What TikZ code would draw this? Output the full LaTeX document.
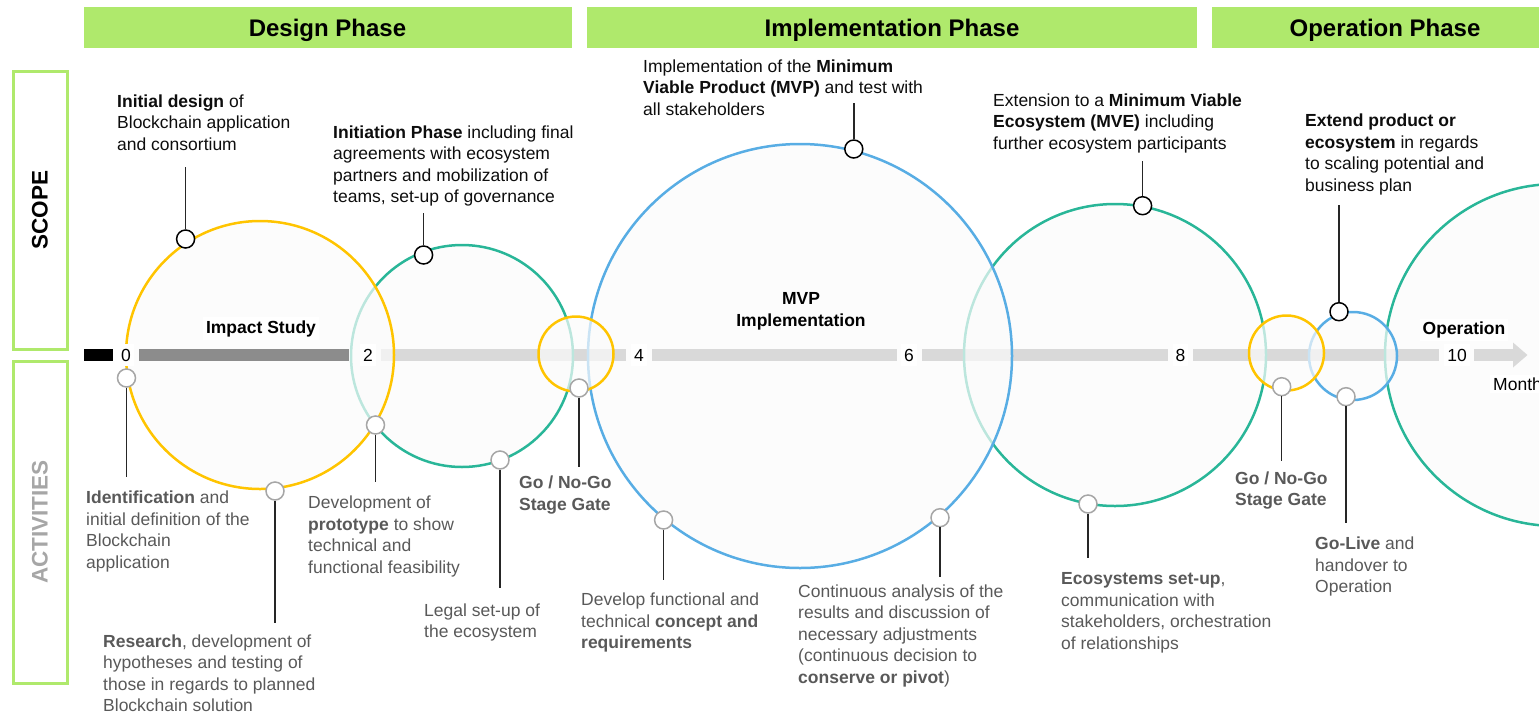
\documentclass[tikz,border=0pt]{standalone}
\usepackage{fontspec}
\setmainfont{Liberation Sans}
\definecolor{hdrgreen}{RGB}{175,233,108}
\definecolor{yelc}{RGB}{255,196,0}
\definecolor{tealc}{RGB}{41,182,152}
\definecolor{bluc}{RGB}{88,173,228}
\definecolor{topc}{RGB}{13,13,13}
\definecolor{botc}{RGB}{89,89,89}
\definecolor{actc}{RGB}{166,166,166}
\definecolor{pingray}{RGB}{166,166,166}
\definecolor{ringfill}{RGB}{251,251,251}
\definecolor{barbase}{RGB}{140,140,140}
\definecolor{bardark}{RGB}{140,140,140}
\newcommand\fsA{\fontsize{17.5pt}{21.6pt}\selectfont}
\newcommand\fsH{\fontsize{24pt}{28pt}\selectfont}
\newcommand\fsS{\fontsize{22.5pt}{26pt}\selectfont}
\begin{document}
\begin{tikzpicture}[x=1pt,y=-1pt,
  hdr/.style={fill=hdrgreen, draw=none, inner sep=0, minimum height=41pt, text depth=0pt, font=\fsH\bfseries, text=black},
  sidebox/.style={draw=hdrgreen, line width=3pt, fill=none, inner sep=0, minimum width=54pt},
  ring/.style={circle, line width=2.5pt, fill=ringfill, fill opacity=0.7, inner sep=0},
  pintop/.style={circle, draw=black, fill=white, line width=1.5pt, minimum size=18pt, inner sep=0},
  pinbot/.style={circle, draw=pingray, fill=white, line width=1.5pt, minimum size=18pt, inner sep=0},
  lead/.style={draw=black!85, line width=1.5pt},
  topdesc/.style={anchor=base west, align=left, inner sep=0, font=\fsA, text=topc},
  botdesc/.style={anchor=base west, align=left, inner sep=0, font=\fsA, text=botc},
  numlbl/.style={fill=white, inner xsep=3pt, inner ysep=5pt, font=\fsA, text=black},
  bartxt/.style={fill=white, inner sep=3pt, font=\fsA\bfseries, text=black},
  barlight/.style={fill=barbase},
]
\useasboundingbox (0,0) rectangle (1539,716);
\begin{scope}
\clip (0,0) rectangle (1539,716);

% phase headers
\node[hdr, minimum width=488pt] (hDesign) at (327.5,27.5) {Design Phase};
\node[hdr, minimum width=610pt] (hImpl) at (892,27.5) {Implementation Phase};
\node[hdr, minimum width=346pt] (hOper) at (1385,27.5) {Operation Phase};

% side boxes
\node[sidebox, minimum height=278pt] (scopebox) at (40,210) {};
\node[sidebox, minimum height=322pt] (actbox) at (40,522) {};
\node[rotate=90, font=\fsS\bfseries, text=black] (scopetxt) at (scopebox.center) {SCOPE};
\node[rotate=90, font=\fsS\bfseries, text=actc] (acttxt) at (actbox.center) {ACTIVITIES};

% timeline (light part, below the circles)
\fill[barlight] (380.7,349) rectangle (626,361);
\fill[barlight] (652,349) rectangle (897,361);
\fill[barlight] (922,349) rectangle (1168,361);
\fill[barlight] (1193,349) rectangle (1439,361);
\fill[barlight] (1474,349) rectangle (1514,361);
\fill[barlight] (1513,342.5) -- (1527.5,355) -- (1513,367.5) -- cycle;

% circles
\node[ring, draw=tealc, minimum size=302pt] (cMVE) at (1115,355) {};
\node[ring, draw=bluc, minimum size=424pt] (cMVP) at (800,356) {};
\node[ring, draw=tealc, minimum size=222pt] (cInit) at (462,356) {};
\node[ring, draw=yelc, minimum size=268pt] (cDesign) at (260,355) {};
\node[ring, draw=yelc, minimum size=75pt] (cGate1) at (576,354) {};
\node[ring, draw=tealc, minimum size=342pt] (cOper) at (1556,355) {};
\node[ring, draw=bluc, minimum size=88pt] (cLive) at (1353,356) {};
\node[ring, draw=yelc, minimum size=75pt] (cGate2) at (1286.5,353) {};
\end{scope}

% timeline (dark part, above)
\fill[black] (84,349) rectangle (113,361);
\fill[bardark] (138.5,349) rectangle (349,361);

% timeline labels
\node[numlbl] (n0) at (126,355) {0};
\node[numlbl] (n2) at (368,355) {2};
\node[numlbl] (n4) at (639,355) {4};
\node[numlbl] (n6) at (909,355) {6};
\node[numlbl] (n8) at (1180.5,355) {8};
\node[numlbl] (n10) at (1457,355) {10};
\node[bartxt] (impact) at (261,328.5) {Impact Study};
\node[bartxt] (operation) at (1464,330) {Operation};
\node[fill=white, inner sep=3pt, font=\fsA, text=black, anchor=west] (months) at (1490,384) {Months};
\node[align=center, inner sep=0, font=\fsA\bfseries, text=black] (mvp) at (801,311.5) {MVP\\Implementation};

% top descriptions (anchor = baseline of the last line)
\node[topdesc] (t1) at (117,150.2) {\textbf{Initial design} of\\Blockchain application\\and consortium};
\node[topdesc] (t2) at (333,202.8) {\textbf{Initiation Phase} including final\\agreements with ecosystem\\partners and mobilization of\\teams, set-up of governance};
\node[topdesc] (t3) at (643,115.2) {Implementation of the \textbf{Minimum}\\\textbf{Viable Product (MVP)} and test with\\all stakeholders};
\node[topdesc] (t4) at (993,149.2) {Extension to a \textbf{Minimum Viable}\\\textbf{Ecosystem (MVE)} including\\further ecosystem participants};
\node[topdesc] (t5) at (1305,191.3) {\textbf{Extend product or}\\\textbf{ecosystem} in regards\\to scaling potential and\\business plan};

% bottom descriptions (anchor = baseline of the last line)
\node[botdesc] (b1) at (86,568.3) {\textbf{Identification} and\\initial definition of the\\Blockchain\\application};
\node[botdesc] (b2) at (103,711.8) {\textbf{Research}, development of\\hypotheses and testing of\\those in regards to planned\\Blockchain solution};
\node[botdesc] (b3) at (308,573.3) {Development of\\\textbf{prototype} to show\\technical and\\functional feasibility};
\node[botdesc] (b4) at (424,637.6) {Legal set-up of\\the ecosystem};
\node[botdesc] (b5) at (519,510.1) {\textbf{Go / No-Go}\\\textbf{Stage Gate}};
\node[botdesc] (b6) at (581,648.7) {Develop functional and\\technical \textbf{concept and}\\\textbf{requirements}};
\node[botdesc] (b7) at (798,683.4) {Continuous analysis of the\\results and discussion of\\necessary adjustments\\(continuous decision to\\\textbf{conserve or pivot})};
\node[botdesc] (b8) at (1061,649.3) {\textbf{Ecosystems set-up},\\communication with\\stakeholders, orchestration\\of relationships};
\node[botdesc] (b9) at (1235,505.6) {\textbf{Go / No-Go}\\\textbf{Stage Gate}};
\node[botdesc] (b10) at (1315,592.7) {\textbf{Go-Live} and\\handover to\\Operation};

% pins
\node[pintop] (p1) at (185.6,239) {};
\node[pintop] (p2) at (423.6,255) {};
\node[pintop] (p3) at (853.8,149) {};
\node[pintop] (p4) at (1142.6,205.7) {};
\node[pintop] (p5) at (1339,311.7) {};
\node[pinbot] (q1) at (126.5,378) {};
\node[pinbot] (q2) at (275,491) {};
\node[pinbot] (q3) at (375.5,425) {};
\node[pinbot] (q4) at (500,460) {};
\node[pinbot] (q5) at (579,388) {};
\node[pinbot] (q6) at (663.6,520) {};
\node[pinbot] (q7) at (940,517.7) {};
\node[pinbot] (q8) at (1088,504) {};
\node[pinbot] (q9) at (1281.7,386.7) {};
\node[pinbot] (q10) at (1346,396.7) {};

% lead ends
\coordinate (e1) at (185.6,166.7);
\coordinate (e2) at (423.6,213);
\coordinate (e3) at (853.8,103);
\coordinate (e4) at (1142.6,161);
\coordinate (e5) at (1339,205);
\coordinate (f1) at (126.5,477);
\coordinate (f2) at (275,622.7);
\coordinate (f3) at (375.5,481.7);
\coordinate (f4) at (500,588);
\coordinate (f5) at (579,466.7);
\coordinate (f6) at (663.6,580);
\coordinate (f7) at (940,576.7);
\coordinate (f8) at (1088,558);
\coordinate (f9) at (1281.7,461);
\coordinate (f10) at (1346,523);

\foreach \i in {1,...,5} {\draw[lead] (p\i) -- (e\i);}
\foreach \i in {1,...,10} {\draw[lead] (q\i) -- (f\i);}
\end{tikzpicture}
\end{document}
